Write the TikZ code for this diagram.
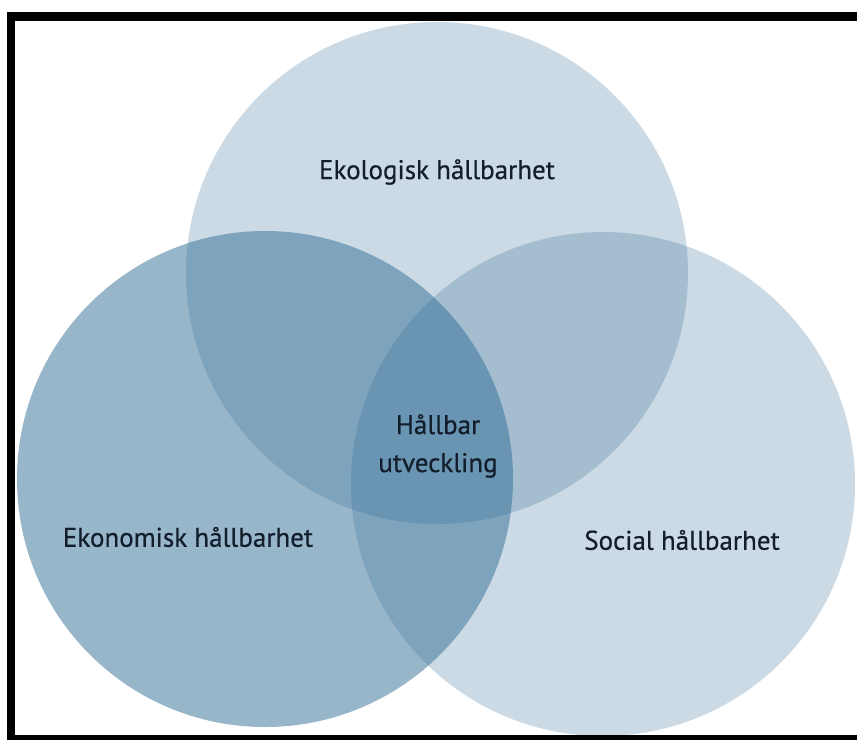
\documentclass[tikz,border=0pt]{standalone}
\usepackage{fontspec}
\setmainfont{PT Sans}
\newfontfamily\labelfont[FakeBold=0.5]{PT Sans}
\begin{document}
\begin{tikzpicture}[x=1pt,y=-1pt,
  ring/.style={fill=vennblue,draw=none},
  label/.style={text=labelink,font=\labelfont\fontsize{27}{38}\selectfont,inner sep=0pt,align=center},
  frame/.style={fill=black}]
\definecolor{vennblue}{RGB}{50,110,150}
\definecolor{labelink}{RGB}{18,30,44}
\useasboundingbox (0,0) rectangle (857,740);
\fill[white] (0,0) rectangle (857,740);
% the three circles, translucent so the overlaps darken
\fill[ring,fill opacity=0.25] (437,273) circle (251);
\fill[ring,fill opacity=0.25] (603,484) circle (252);
\fill[ring,fill opacity=0.5] (265,479) circle (248);
% frame (the right side lies outside the page)
\fill[frame] (7,12) rectangle (15,740);
\fill[frame] (7,12) rectangle (857,21);
\fill[frame] (7,735) rectangle (857,740);
% labels
\node[label] (eko) at (437,172) {Ekologisk hållbarhet};
\node[label] (ekon) at (188,537) {Ekonomisk hållbarhet};
\node[label] (soc) at (682,540) {Social hållbarhet};
\node[label] (hu) at (438,446) {Hållbar\\utveckling};
\end{tikzpicture}
\end{document}
